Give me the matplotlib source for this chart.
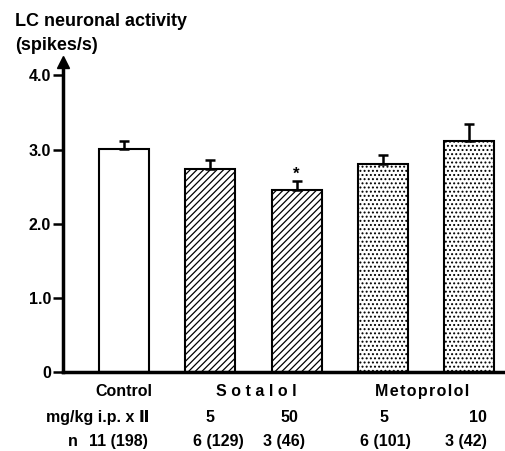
import matplotlib
matplotlib.use("Agg")
import matplotlib.pyplot as plt

plt.rcParams['font.family'] = ['Liberation Sans', 'DejaVu Sans']
plt.rcParams['font.weight'] = 'bold'
plt.rcParams['hatch.linewidth'] = 0.9

values = [3.01, 2.74, 2.46, 2.80, 3.12]
errors = [0.11, 0.12, 0.12, 0.12, 0.22]
hatches = ['', '/////', '/////', '....', '....']
doses = ['5', '50', '5', '10']
ns = ['11 (198)', '6 (129)', '3 (46)', '6 (101)', '3 (42)']
yticks = [0, 1, 2, 3, 4]
yticklabels = ['0', '1.0', '2.0', '3.0', '4.0']

# layout positions for the text rows (in bar units)
dose_x = [0.99, 1.92, 3.01, 4.10]
n_x = [-0.07, 1.09, 1.85, 3.03, 3.96]

fig = plt.figure(figsize=(5.06, 4.51), dpi=100)
ax = fig.add_axes([63/506, (451-372)/451, 1 - 63/506, (372-62)/451])

x = list(range(len(values)))
ax.bar(x, values, width=0.58, color='white', edgecolor='black', linewidth=1.5,
       hatch=hatches, zorder=2)
ax.errorbar(x, values, yerr=[[0]*len(values), errors], fmt='none', ecolor='black',
            elinewidth=1.8, capsize=3.4, capthick=1.8, zorder=3)
ax.text(2, values[2] + errors[2] - 0.01, '*', ha='center', va='bottom', fontsize=12)

ax.set_xlim(-0.71, 4.43)
ax.set_ylim(0, 4.18)
ax.set_xticks([])
ax.set_yticks(yticks)
ax.set_yticklabels(yticklabels, fontsize=11.5, fontweight='bold')
ax.tick_params(axis='y', length=7.5, width=1.8, pad=1)
for s in ['top', 'right']:
    ax.spines[s].set_visible(False)
ax.spines['left'].set_linewidth(2.5)
ax.spines['bottom'].set_linewidth(2.5)
ax.plot([0], [1], marker='^', markersize=8, color='black', transform=ax.transAxes,
        clip_on=False)

fig.text(15/506, 1 - 21/451, 'LC neuronal activity', fontsize=13, fontweight='bold',
         va='center', ha='left')
fig.text(15/506, 1 - 46/451, '(spikes/s)', fontsize=13, fontweight='bold',
         va='center', ha='left')

fs = 11.5
tr = ax.get_xaxis_transform()
r1, r2, r3 = -0.0645, -0.148, -0.2226
ax.text(0, r1, 'Control', transform=tr, ha='center', va='center', fontsize=fs)
ax.text(1.535, r1, 'S o t a l o l', transform=tr, ha='center', va='center', fontsize=fs)
ax.text(3.46, r1, '\u200a'.join('Metoprolol'), transform=tr, ha='center', va='center',
        fontsize=fs)
ax.text(0.29, r2, 'mg/kg i.p. x \u2161', transform=tr, ha='right', va='center', fontsize=fs)
for xi, d in zip(dose_x, doses):
    ax.text(xi, r2, d, transform=tr, ha='center', va='center', fontsize=fs)
ax.text(-0.60, r3, 'n', transform=tr, ha='center', va='center', fontsize=fs)
for xi, n in zip(n_x, ns):
    ax.text(xi, r3, n, transform=tr, ha='center', va='center', fontsize=fs)

fig.savefig('out.png', dpi=100)
